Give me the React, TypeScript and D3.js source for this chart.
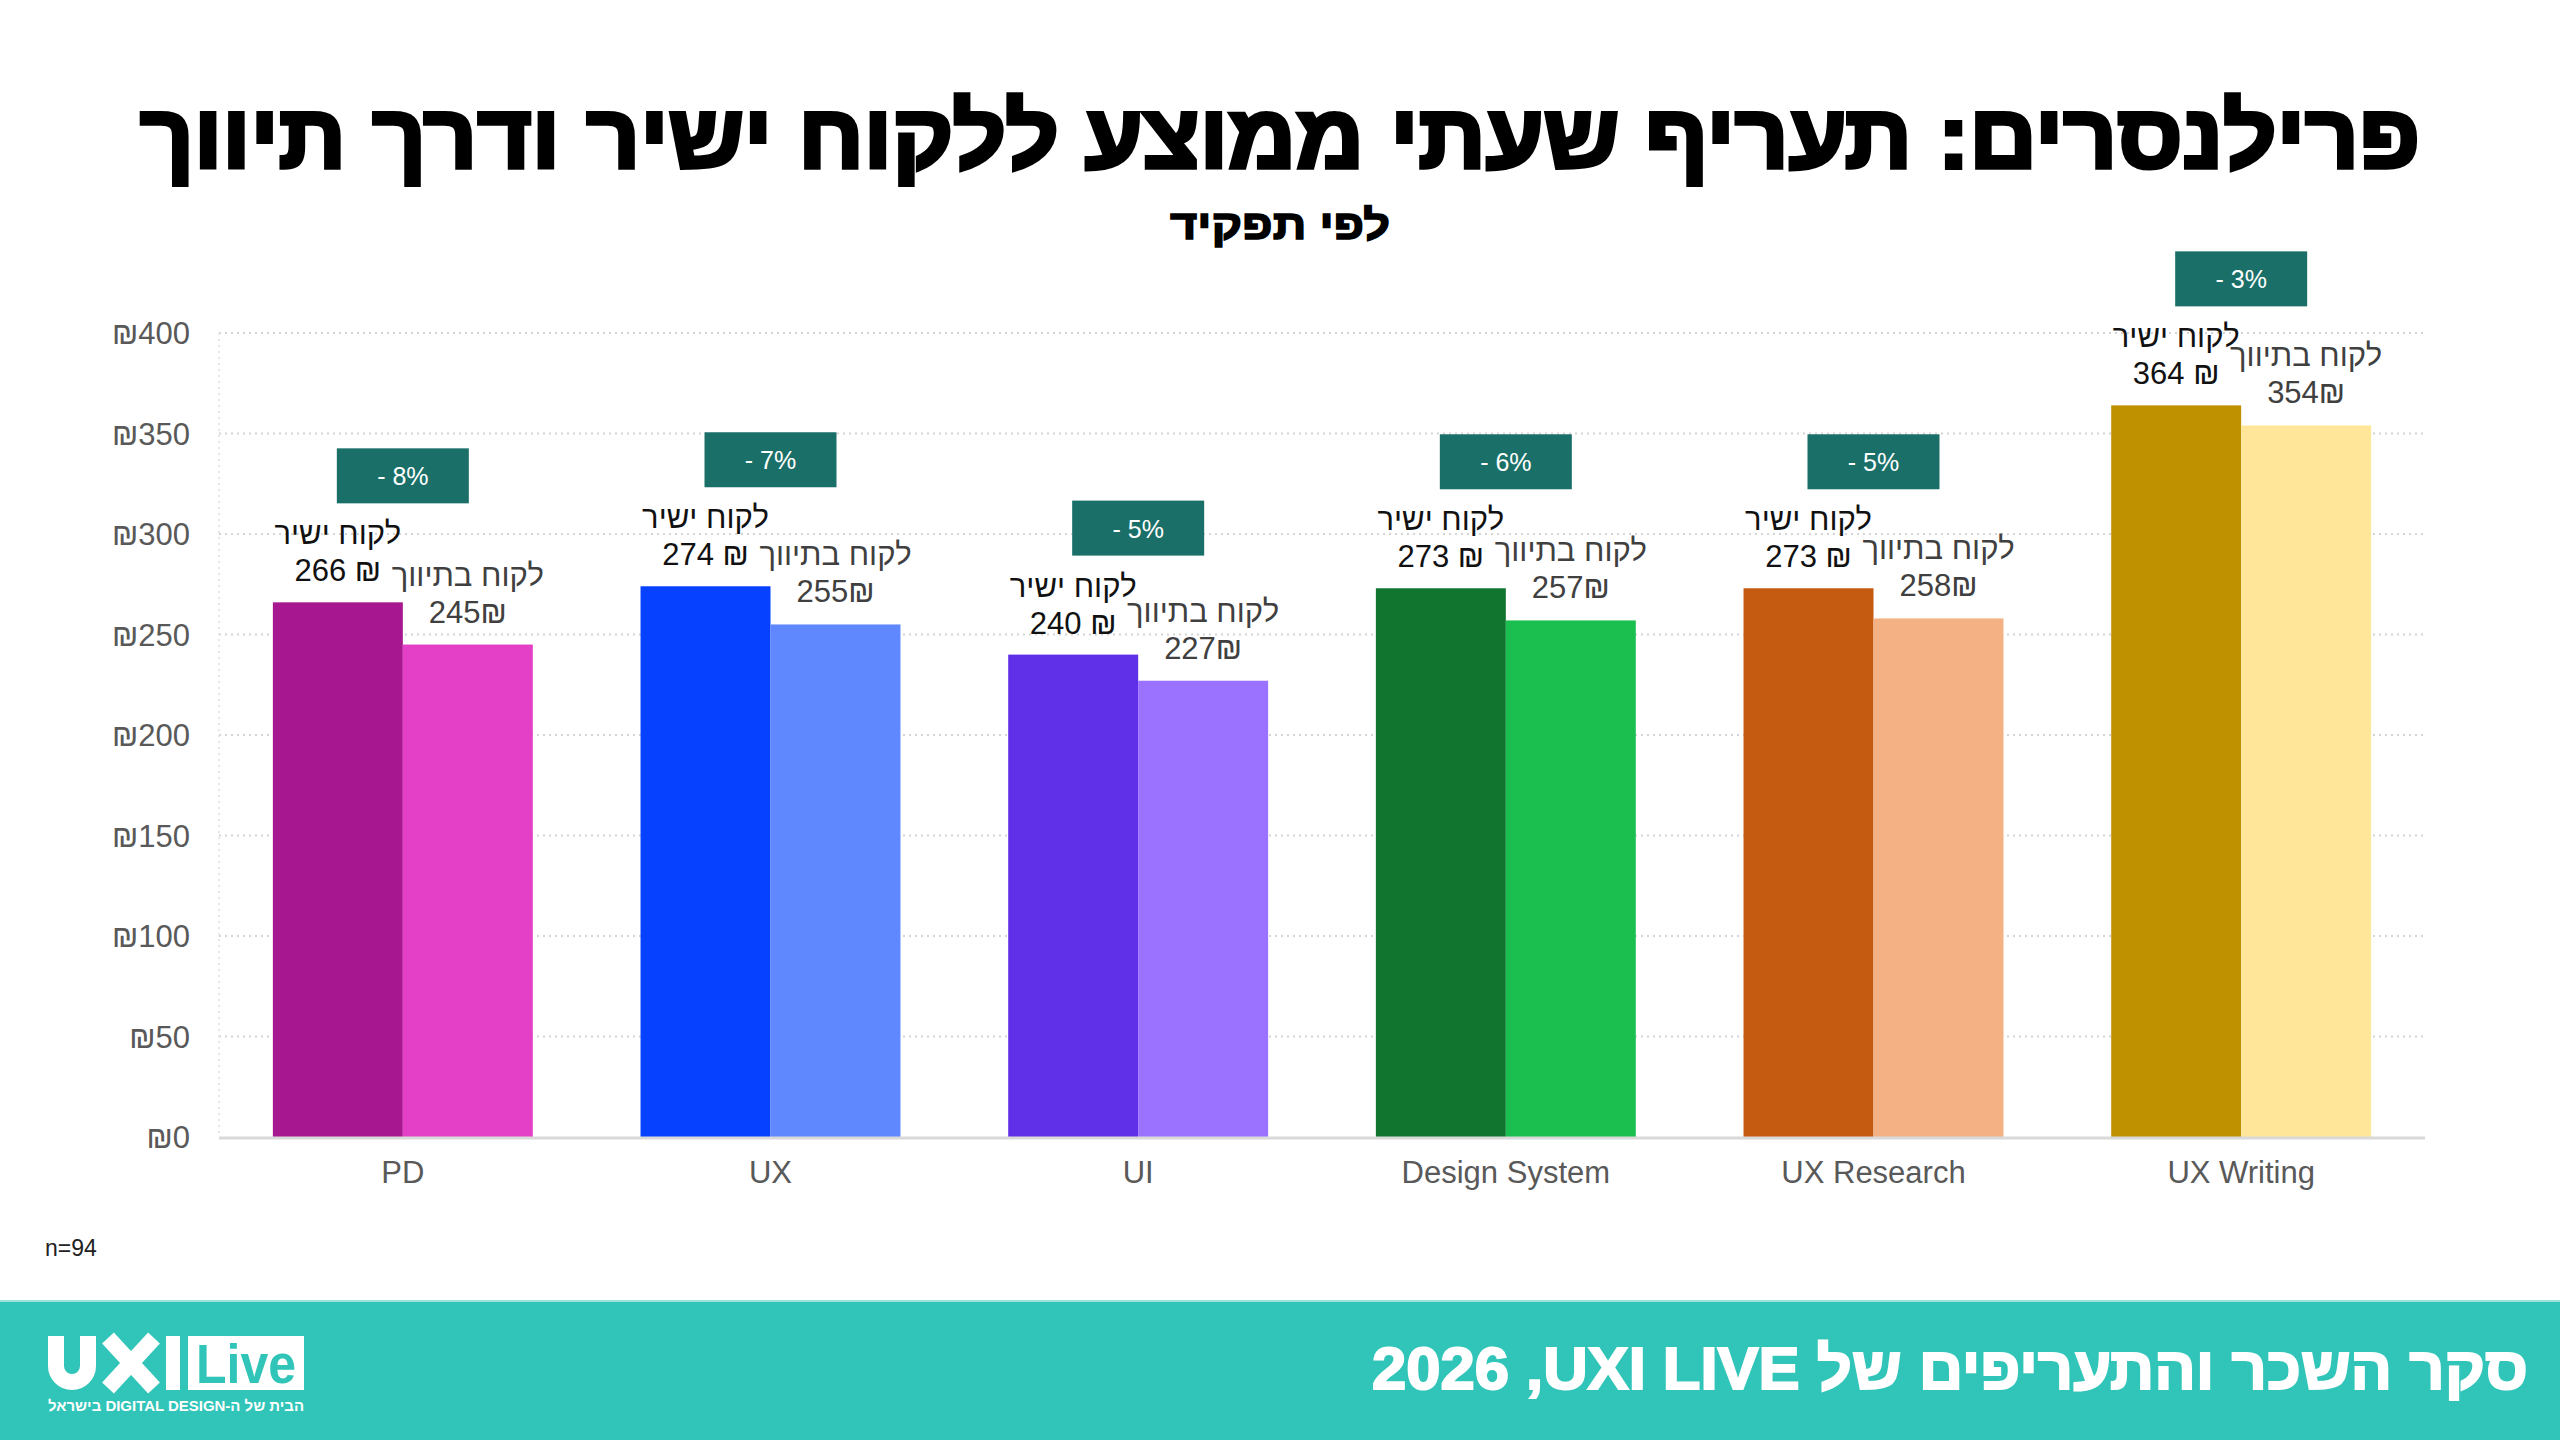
import React from 'react';
import * as d3 from 'd3';

const categories = ['PD', 'UX', 'UI', 'Design System', 'UX Research', 'UX Writing'];
const directRates = [266, 274, 240, 273, 273, 364];
const agencyRates = [245, 255, 227, 257, 258, 354];
const diffLabels = ['- 8%', '- 7%', '- 5%', '- 6%', '- 5%', '- 3%'];
const directColors = ['#a7178f', '#0541fe', '#6030e8', '#117530', '#c55a11', '#bf9000'];
const agencyColors = ['#e33fc7', '#5f88ff', '#9b72ff', '#1abf50', '#f4b183', '#ffe699'];
const yTicks = [0, 50, 100, 150, 200, 250, 300, 350, 400];
const seriesKeys = ['direct', 'agency'];

const W = 2560;
const H = 1440;
const LABEL_FONT = '"Liberation Sans Narrow", "Liberation Sans", "DejaVu Sans", sans-serif';
const HEAVY_FONT = '"Liberation Sans", "DejaVu Sans", sans-serif';

export default function App() {
    const x = d3.scaleBand<string>()
        .domain(categories)
        .range([219, 2425])
        .paddingInner(0.293)
        .paddingOuter(0.1465);

    const xInner = d3.scaleBand<string>()
        .domain(seriesKeys)
        .range([0, x.bandwidth()]);

    const y = d3.scaleLinear()
        .domain([0, 400])
        .range([1137, 333]);

    const [x0, x1] = x.range();

    return (
        <svg
            width={W}
            height={H}
            viewBox={`0 0 ${W} ${H}`}
            style={{ position: 'fixed', left: 0, top: 0, background: '#fff' }}
        >
            {/* title */}
            <text
                x={1280}
                y={168}
                textAnchor="middle"
                direction="rtl"
                fontFamily={HEAVY_FONT}
                fontWeight={700}
                fontSize={90}
                fill="#000"
                stroke="#000"
                strokeWidth={4}
                textLength={2280}
                lengthAdjust="spacingAndGlyphs"
            >
                פרילנסרים: תעריף שעתי ממוצע ללקוח ישיר ודרך תיווך
            </text>
            <text
                x={1280}
                y={239}
                textAnchor="middle"
                direction="rtl"
                fontFamily={HEAVY_FONT}
                fontWeight={700}
                fontSize={42}
                fill="#000"
                stroke="#000"
                strokeWidth={1.5}
                textLength={220}
                lengthAdjust="spacingAndGlyphs"
            >
                לפי תפקיד
            </text>

            {/* grid */}
            {yTicks.filter(t => t > 0).map(t => (
                <line
                    key={t}
                    x1={x0}
                    x2={x1}
                    y1={y(t)}
                    y2={y(t)}
                    stroke="#d4d4d4"
                    strokeWidth={2}
                    strokeDasharray="2,4"
                />
            ))}
            <line x1={x0} x2={x0} y1={y(400)} y2={y(0)} stroke="#e6e6e6" strokeWidth={2} strokeDasharray="2,4" />

            {/* y tick labels */}
            {yTicks.map(t => (
                <text
                    key={t}
                    x={190}
                    y={y(t) + 11}
                    textAnchor="end"
                    fontFamily={LABEL_FONT}
                    fontSize={31}
                    fill="#595959"
                >
                    {`₪${t}`}
                </text>
            ))}

            {/* bars */}
            {categories.map((c, i) => {
                const gx = x(c)!;
                const cx = gx + x.bandwidth() / 2;
                const dx = gx + xInner('direct')!;
                const ax = gx + xInner('agency')!;
                const bw = xInner.bandwidth();
                const dTop = y(directRates[i]);
                const aTop = y(agencyRates[i]);
                return (
                    <g key={c}>
                        <rect x={dx} y={dTop} width={bw} height={y(0) - dTop} fill={directColors[i]} />
                        <rect x={ax} y={aTop} width={bw} height={y(0) - aTop} fill={agencyColors[i]} />

                        <text x={dx + bw / 2} y={dTop - 58} textAnchor="middle" direction="rtl"
                            fontFamily={LABEL_FONT} fontSize={31} fill="#111">לקוח ישיר</text>
                        <text x={dx + bw / 2} y={dTop - 21} textAnchor="middle"
                            fontFamily={LABEL_FONT} fontSize={31} fill="#111">{`${directRates[i]} ₪`}</text>

                        <text x={ax + bw / 2} y={aTop - 59} textAnchor="middle" direction="rtl"
                            fontFamily={LABEL_FONT} fontSize={31} fill="#404040">לקוח בתיווך</text>
                        <text x={ax + bw / 2} y={aTop - 22} textAnchor="middle"
                            fontFamily={LABEL_FONT} fontSize={31} fill="#404040">{`${agencyRates[i]}₪`}</text>

                        <rect x={cx - 66} y={dTop - 154} width={132} height={55} fill="#1a7068" />
                        <text x={cx} y={dTop - 117} textAnchor="middle"
                            fontFamily={LABEL_FONT} fontSize={25} fill="#fff">{diffLabels[i]}</text>

                        <text x={cx} y={1183} textAnchor="middle"
                            fontFamily={LABEL_FONT} fontSize={31} fill="#595959">{c}</text>
                    </g>
                );
            })}

            {/* x axis */}
            <line x1={x0} x2={x1} y1={y(0) + 1} y2={y(0) + 1} stroke="#d9d9d9" strokeWidth={3} />

            <text x={45} y={1256} fontFamily={LABEL_FONT} fontSize={23} fill="#222">n=94</text>

            {/* footer */}
            <rect x={0} y={1300} width={W} height={140} fill="#30c5b8" />
            <rect x={0} y={1300} width={W} height={2} fill="#9be3dc" />
            <text
                x={1950}
                y={1389}
                textAnchor="middle"
                direction="rtl"
                fontFamily={HEAVY_FONT}
                fontWeight={700}
                fontSize={60}
                fill="#fff"
                stroke="#fff"
                strokeWidth={2}
                textLength={1156}
                lengthAdjust="spacingAndGlyphs"
            >
                {'סקר השכר והתעריפים של UXI LIVE\u200F, 2026'}
            </text>

            {/* logo: U, X and bar drawn as shapes */}
            <g fill="none" stroke="#fff" strokeWidth={16}>
                <path d="M56,1336 V1366 A16,16 0 0 0 88,1366 V1336" />
                <line x1={108} y1={1338} x2={154} y2={1388} />
                <line x1={154} y1={1338} x2={108} y2={1388} />
            </g>
            <rect x={166} y={1336} width={14} height={54} fill="#fff" />
            <rect x={188} y={1336} width={116} height={54} fill="#fff" />
            <text x={246} y={1383} textAnchor="middle" fontFamily={LABEL_FONT} fontWeight={700} fontSize={56} fill="#30c5b8"
                textLength={100} lengthAdjust="spacingAndGlyphs">Live</text>
            <text x={176} y={1411} textAnchor="middle" direction="rtl" fontFamily={LABEL_FONT} fontWeight={700}
                fontSize={15} fill="#fff" textLength={256} lengthAdjust="spacingAndGlyphs">הבית של ה-DIGITAL DESIGN בישראל</text>
        </svg>
    );
}
